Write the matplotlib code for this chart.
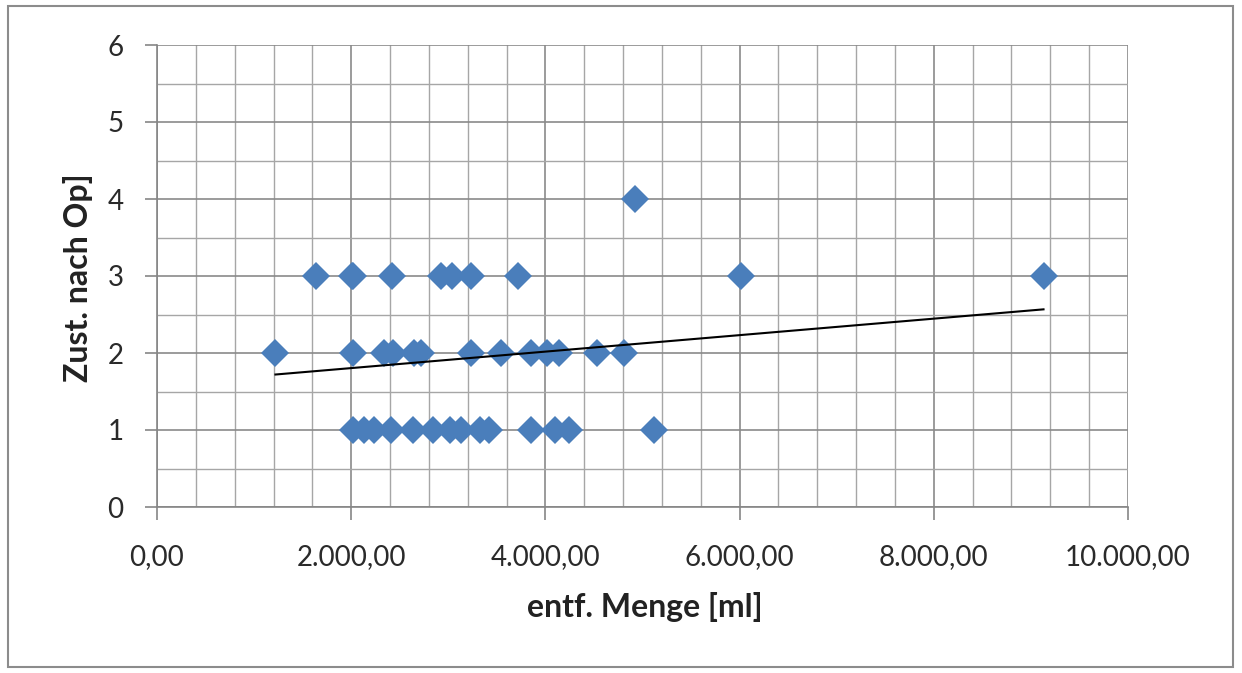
import matplotlib
matplotlib.use("Agg")
import matplotlib.pyplot as plt
from matplotlib.patches import Rectangle
from matplotlib.ticker import MultipleLocator, FuncFormatter
import numpy as np

plt.rcParams['font.family'] = ['Lato', 'DejaVu Sans']

# entf. Menge [ml] vs. Zust. nach Op
menge = [1640, 2010, 2020, 2420, 2920, 3040, 3230, 3720, 6010, 9130,
         4920,
         1220, 2020, 2340, 2430, 2650, 2720, 3230, 3540, 3850, 4020, 4140, 4530, 4810,
         2020, 2130, 2230, 2410, 2640, 2840, 3020, 3130, 3330, 3420, 3850, 4100, 4240, 5120]
zustand = [3, 3, 3, 3, 3, 3, 3, 3, 3, 3,
           4,
           2, 2, 2, 2, 2, 2, 2, 2, 2, 2, 2, 2, 2,
           1, 1, 1, 1, 1, 1, 1, 1, 1, 1, 1, 1, 1, 1]

# linear trend line as shown in the chart
trend_slope = 0.000107
trend_intercept = 1.59

def german(v, pos):
    s = "{:,.2f}".format(v)
    return s.replace(",", "X").replace(".", ",").replace("X", ".")

fig = plt.figure(figsize=(12.42, 6.73), dpi=100)
W, H = 1242, 673
ax = fig.add_axes([157 / W, 1 - 507 / H, (1128 - 157) / W, (507 - 45) / H])

x = np.array(menge)
y = np.array(zustand)
ax.plot(x, y, linestyle='none', marker='D', markersize=14.5, color='#4a7ebb',
        markeredgewidth=0, zorder=3)

tx = np.array([x.min(), x.max()])
ax.plot(tx, trend_intercept + trend_slope * tx, color='black', lw=1.5, zorder=4)

ax.set_xlim(0, 10000)
ax.set_ylim(0, 6)
ax.xaxis.set_major_locator(MultipleLocator(2000))
ax.xaxis.set_minor_locator(MultipleLocator(400))
ax.yaxis.set_major_locator(MultipleLocator(1))
ax.yaxis.set_minor_locator(MultipleLocator(0.5))
ax.xaxis.set_major_formatter(FuncFormatter(german))

ax.grid(which='major', color='#8a8a8a', lw=1.2)
ax.grid(which='minor', color='#a6a6a6', lw=1.0)
ax.set_axisbelow(True)

for s in ['top', 'right']:
    ax.spines[s].set_visible(False)
for s in ['left', 'bottom']:
    ax.spines[s].set_color('#868686')
    ax.spines[s].set_linewidth(1.2)

ax.tick_params(which='major', length=9, width=1.2, color='#868686',
               labelsize=20, labelcolor='#2a2a2a')
ax.tick_params(axis='y', which='major', pad=15)
ax.tick_params(axis='x', which='major', pad=18)
ax.tick_params(which='minor', length=0)

fig.text(645 / W, 1 - 607 / H, 'entf. Menge [ml]', ha='center', va='center',
         fontsize=23, fontweight='bold', color='#222222')
fig.text(78 / W, 1 - 278 / H, 'Zust. nach Op]', ha='center', va='center',
         rotation=90, fontsize=23, fontweight='bold', color='#222222')

fig.patches.append(Rectangle((8 / W, 1 - 667 / H), (1233 - 8) / W, (667 - 6) / H,
                             transform=fig.transFigure, fill=False,
                             edgecolor='#8c8c8c', lw=1.5))

fig.savefig('out.png', dpi=100)
